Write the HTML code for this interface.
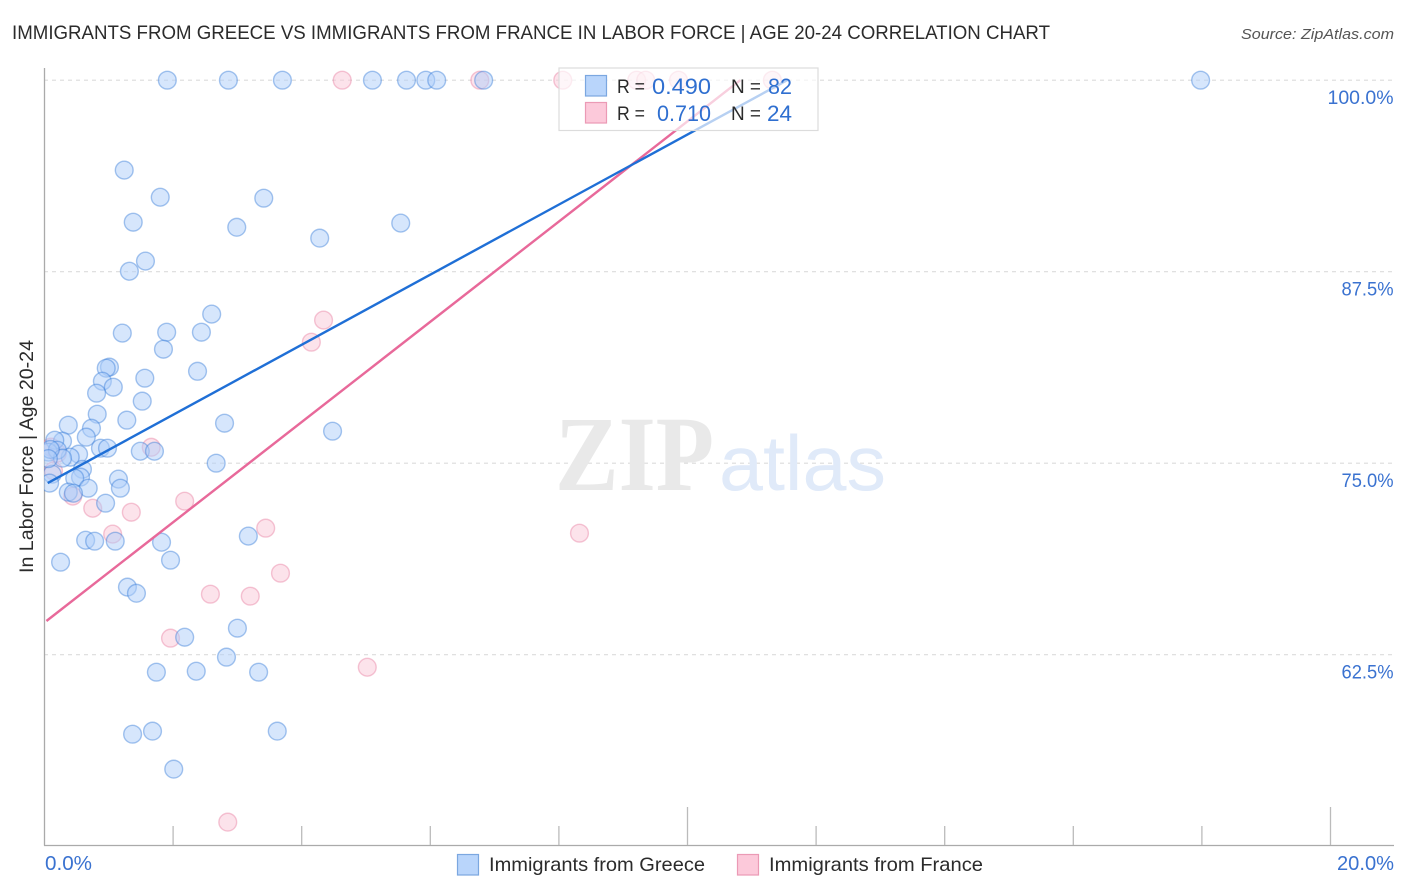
<!DOCTYPE html>
<html lang="en">
<head>
<meta charset="utf-8">
<title>Immigrants from Greece vs Immigrants from France in Labor Force | Age 20-24 Correlation Chart</title>
<style>
html,body{margin:0;padding:0;background:#fff;}
svg{display:block;}
text{font-family:"Liberation Sans",sans-serif;}
</style>
</head>
<body>
<svg id="chart" xmlns="http://www.w3.org/2000/svg" width="1406" height="892" viewBox="0 0 1406 892">
  <defs>
    <clipPath id="plot-clip"><rect x="44" y="60" width="1350" height="786"/></clipPath>
  </defs>
  <text x="12" y="39" font-size="19.5" fill="#2b2b2b" textLength="1038" lengthAdjust="spacingAndGlyphs">IMMIGRANTS FROM GREECE VS IMMIGRANTS FROM FRANCE IN LABOR FORCE | AGE 20-24 CORRELATION CHART</text>
  <text x="1241" y="39" font-size="15" font-style="italic" fill="#555" textLength="153" lengthAdjust="spacingAndGlyphs">Source: ZipAtlas.com</text>
  <g id="grid"></g>
  <g>
    <text x="555" y="490" font-size="107" font-weight="bold" fill="#e9e9e9" style="font-family:'Liberation Serif',serif" textLength="159" lengthAdjust="spacingAndGlyphs">ZIP</text>
    <text x="719" y="490" font-size="78" fill="#e0eaf9" textLength="167" lengthAdjust="spacingAndGlyphs">atlas</text>
  </g>
  <g id="axes"></g>
  <g clip-path="url(#plot-clip)">
    <g id="pts-france"></g>
    <g id="pts-greece"></g>
  </g>
  <g id="trends"></g>
  <g>
    <rect x="559" y="68" width="259" height="62.5" fill="#fff" fill-opacity="0.68" stroke="#dcdcdc" stroke-width="1.2"/>
    <rect x="585.5" y="75.5" width="21" height="20.5" fill="#b9d5fb" stroke="#7ba7e0" stroke-width="1.2"/>
    <rect x="585.5" y="102.5" width="21" height="20.5" fill="#fcc9da" stroke="#eb9ab5" stroke-width="1.2"/>
    <text x="617" y="93" font-size="19" fill="#2b2b2b" textLength="28" lengthAdjust="spacingAndGlyphs">R =</text>
    <text x="652" y="94" font-size="22" fill="#2f6fd0" textLength="59" lengthAdjust="spacingAndGlyphs">0.490</text>
    <text x="731" y="93" font-size="19" fill="#2b2b2b" textLength="30" lengthAdjust="spacingAndGlyphs">N =</text>
    <text x="768" y="94" font-size="22" fill="#2f6fd0" textLength="24" lengthAdjust="spacingAndGlyphs">82</text>
    <text x="617" y="120" font-size="19" fill="#2b2b2b" textLength="28" lengthAdjust="spacingAndGlyphs">R =</text>
    <text x="657" y="121" font-size="22" fill="#2f6fd0" textLength="54" lengthAdjust="spacingAndGlyphs">0.710</text>
    <text x="731" y="120" font-size="19" fill="#2b2b2b" textLength="30" lengthAdjust="spacingAndGlyphs">N =</text>
    <text x="767" y="121" font-size="22" fill="#2f6fd0" textLength="25" lengthAdjust="spacingAndGlyphs">24</text>
  </g>
  <text transform="translate(33,456.5) rotate(-90)" text-anchor="middle" font-size="19" fill="#2b2b2b" textLength="233" lengthAdjust="spacingAndGlyphs">In Labor Force | Age 20-24</text>
  <text x="45" y="870" font-size="20" fill="#3a72d0" textLength="47" lengthAdjust="spacingAndGlyphs">0.0%</text>
  <text x="1337" y="870" font-size="20" fill="#3a72d0" textLength="57" lengthAdjust="spacingAndGlyphs">20.0%</text>
  <g>
    <rect x="457.5" y="854.5" width="21" height="20.5" fill="#b9d5fb" stroke="#7ba7e0" stroke-width="1.2"/>
    <text x="489" y="871" font-size="19.5" fill="#2b2b2b" textLength="216" lengthAdjust="spacingAndGlyphs">Immigrants from Greece</text>
    <rect x="737.5" y="854.5" width="21" height="20.5" fill="#fcc9da" stroke="#eb9ab5" stroke-width="1.2"/>
    <text x="769" y="871" font-size="19.5" fill="#2b2b2b" textLength="214" lengthAdjust="spacingAndGlyphs">Immigrants from France</text>
  </g>
</svg>
<script>
const yTickValues = [100, 87.5, 75, 62.5];
const yTickLabels = ["100.0%", "87.5%", "75.0%", "62.5%"];
const xTickValues = [2, 4, 6, 8, 10, 12, 14, 16, 18, 20];
const xLongTicks = [10, 20];
const greeceX = [1.91,2.86,3.70,5.10,5.63,5.93,6.10,6.83,17.98,1.24,1.80,1.38,3.41,2.99,4.28,5.54,1.57,1.32,2.60,1.21,1.90,2.44,1.85,2.38,1.01,0.96,1.56,0.90,1.07,0.81,1.52,0.82,1.28,2.80,4.48,0.73,0.37,0.65,0.28,0.16,0.87,0.98,1.49,1.71,0.53,0.40,0.06,0.20,0.28,2.67,0.59,0.12,0.56,0.47,1.15,1.18,0.68,0.37,0.45,0.95,3.17,0.64,0.78,1.10,1.82,0.25,1.96,1.29,1.43,3.00,2.18,2.83,1.74,2.36,3.33,1.37,1.68,3.62,2.01,0.09,0.06,0.08];
const greeceY = [100,100,100,100,100,100,100,100,100,94.13,92.36,90.73,92.30,90.40,89.69,90.67,88.19,87.53,84.73,83.49,83.55,83.55,82.44,81.00,81.27,81.20,80.55,80.35,79.96,79.57,79.05,78.20,77.81,77.61,77.09,77.28,77.48,76.70,76.44,76.50,75.98,75.98,75.78,75.78,75.59,75.39,75.72,75.85,75.33,75.00,74.60,74.28,74.09,74.02,73.96,73.37,73.37,73.11,73.04,72.39,70.24,69.97,69.91,69.91,69.84,68.54,68.67,66.91,66.51,64.23,63.64,62.34,61.36,61.42,61.36,57.31,57.51,57.51,55.03,75.90,75.30,73.70];
const franceX = [4.63,6.77,8.06,9.21,9.35,9.86,11.32,4.34,4.15,1.66,0.10,0.20,0.14,0.44,0.75,2.18,1.35,1.06,3.44,8.32,3.67,2.58,3.20,1.96,5.02,2.85];
const franceY = [100,100,100,100,100,100,100,84.34,82.90,76.04,76.05,75.65,74.50,72.85,72.06,72.52,71.80,70.37,70.76,70.43,67.82,66.45,66.32,63.58,61.68,51.57];
const greeceTrendX = [0.05, 11.55];
const greeceTrendY = [73.7, 100];
const franceTrendX = [0.03, 10.82];
const franceTrendY = [64.7, 100];

const NS = "http://www.w3.org/2000/svg";
function sx(v){ return 44.5 + v * 64.3; }
function sy(v){ return 80.2 + (100 - v) * 15.32; }
function make(tag, attrs, parent){
  const el = document.createElementNS(NS, tag);
  for (const k in attrs) el.setAttribute(k, attrs[k]);
  parent.appendChild(el);
  return el;
}
const grid = document.getElementById("grid");
const axes = document.getElementById("axes");
yTickValues.forEach(function(v, i){
  const line = make("line", {x1:44, x2:1393, y1:sy(v), y2:sy(v), stroke:"#dcdcdc", "stroke-width":1.1, "stroke-dasharray":"4 4"}, grid);
  
  
  const label = yTickLabels[i];
  const t = make("text", {x:1393.5, y:sy(v) + 24, "text-anchor":"end", "font-size":19, fill:"#3a72d0", textLength:label.length > 5 ? 66 : 52, lengthAdjust:"spacingAndGlyphs"}, axes);
  
  
  t.textContent = label;
});
const leftAxis = make("line", {x1:44.5, x2:44.5, y1:68, y2:845.5, stroke:"#aaa", "stroke-width":1.3}, axes);


const bottomAxis = make("line", {x1:44, x2:1394, y1:845.5, y2:845.5, stroke:"#aaa", "stroke-width":1.3}, axes);


xTickValues.forEach(function(v){
  const isLong = xLongTicks.indexOf(v) >= 0;
  const tick = make("line", {x1:sx(v), x2:sx(v), y1:isLong ? 807 : 826, y2:845, stroke:"#bbb", "stroke-width":1.3}, axes);
  
  
});
function drawPoints(xs, ys, groupId, fill, stroke, name){
  const g = document.getElementById(groupId);
  xs.forEach(function(x, i){
    const c = make("circle", {cx:sx(x), cy:sy(ys[i]), r:8.9, fill:fill, "fill-opacity":0.5, stroke:stroke, "stroke-opacity":0.42, "stroke-width":1.4}, g);
    
    
  });
}
drawPoints(franceX, franceY, "pts-france", "#f9c8d8", "#e8799e", "france-point");
drawPoints(greeceX, greeceY, "pts-greece", "#aecdf9", "#2f76d6", "greece-point");
const trends = document.getElementById("trends");
const trendFrance = make("line", {x1:sx(franceTrendX[0]), y1:sy(franceTrendY[0]), x2:sx(franceTrendX[1]), y2:sy(franceTrendY[1]), stroke:"#e8699a", "stroke-width":2.4}, trends);


const trendGreece = make("line", {x1:sx(greeceTrendX[0]), y1:sy(greeceTrendY[0]), x2:sx(greeceTrendX[1]), y2:sy(greeceTrendY[1]), stroke:"#1f6fd6", "stroke-width":2.4}, trends);


</script>
</body>
</html>
